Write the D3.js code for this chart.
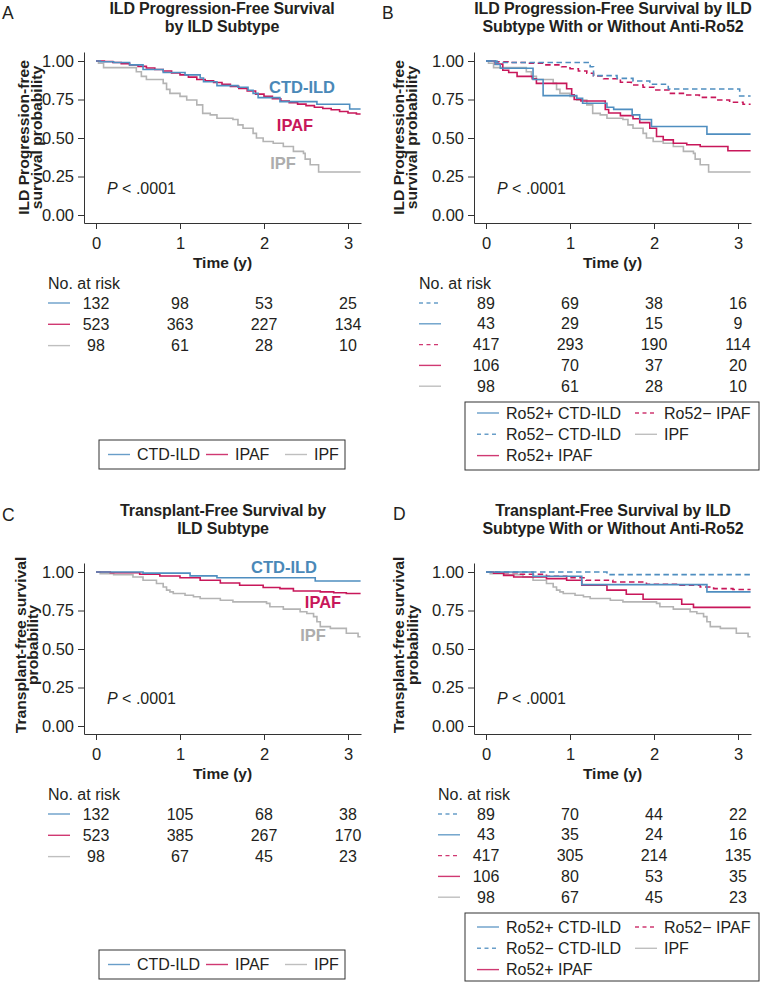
<!DOCTYPE html>
<html lang="en">
<head>
<meta charset="UTF-8">
<title>ILD survival by subtype</title>
<script src="https://d3js.org/d3.v7.min.js"></script>
<style>
    body { margin: 0; background: #fff; }
    svg { font-family: "Liberation Sans", Arial, Helvetica, sans-serif; }
    .tick text { font-size: 16.5px; fill: #231f20; }
    .tick line, .domain { stroke: #333; }
    .title { font-size: 16px; font-weight: bold; fill: #231f20; text-anchor: middle; letter-spacing: -0.15px; }
    .letter { font-size: 17.5px; fill: #231f20; }
    .ylab { font-size: 14.5px; font-weight: bold; fill: #231f20; text-anchor: middle; }
    .xlab { font-size: 15.5px; font-weight: bold; fill: #231f20; text-anchor: middle; }
    .txt { font-size: 16px; fill: #231f20; }
    .curve { fill: none; stroke-width: 1.6; }
    .clab { font-size: 16.5px; font-weight: bold; text-anchor: middle; }
</style>
</head>
<body>
<svg id="chart" width="760" height="982"></svg>
<script>
// time ticks (years) and survival ticks
const timeTicks = [0, 1, 2, 3];
const survTicks = [0, 0.25, 0.5, 0.75, 1];
const tEnd = 3.15;

// ---- ILD progression-free survival: [time, survival] steps ----
const pfsCtd = [[0,1],[0.05,0.995],[0.21,0.99],[0.40,0.975],[0.56,0.945],[0.80,0.925],[1.06,0.91],[1.24,0.89],[1.28,0.865],[1.44,0.84],[1.69,0.83],[1.81,0.81],[1.87,0.79],[1.93,0.762],[2.19,0.736],[2.63,0.719],[3.02,0.688],[tEnd,0.688]];
const pfsIpaf = [[0,1],[0.1,0.997],[0.2,0.99],[0.3,0.983],[0.4,0.975],[0.5,0.965],[0.6,0.955],[0.7,0.945],[0.8,0.935],[0.9,0.922],[1.0,0.91],[1.1,0.895],[1.2,0.88],[1.3,0.872],[1.4,0.86],[1.5,0.848],[1.6,0.835],[1.7,0.822],[1.8,0.805],[1.9,0.785],[2.0,0.77],[2.1,0.755],[2.2,0.74],[2.3,0.73],[2.4,0.72],[2.5,0.71],[2.6,0.70],[2.7,0.692],[2.8,0.683],[2.9,0.672],[3.0,0.662],[3.1,0.656],[tEnd,0.656]];
const pfsIpf = [[0,1],[0.03,0.985],[0.09,0.957],[0.48,0.93],[0.54,0.9],[0.6,0.88],[0.8,0.855],[0.84,0.816],[0.88,0.79],[1.0,0.77],[1.08,0.747],[1.2,0.715],[1.27,0.66],[1.36,0.65],[1.44,0.628],[1.63,0.62],[1.69,0.585],[1.75,0.563],[1.87,0.53],[1.91,0.5],[1.99,0.477],[2.11,0.466],[2.23,0.445],[2.35,0.413],[2.47,0.40],[2.49,0.363],[2.55,0.326],[2.65,0.279],[tEnd,0.279]];
const pfsNegCtd = [[0,1],[0.13,0.99],[1.24,0.963],[1.28,0.905],[1.56,0.887],[1.75,0.87],[1.95,0.849],[2.17,0.818],[3.02,0.773],[tEnd,0.773]];
const pfsPosCtd = [[0,1],[0.11,0.977],[0.17,0.953],[0.56,0.88],[0.68,0.775],[1.08,0.758],[1.15,0.726],[1.44,0.70],[1.52,0.686],[1.74,0.65],[1.83,0.62],[1.97,0.575],[2.63,0.525],[tEnd,0.525]];
const pfsNegIpaf = [[0,1],[0.1,0.995],[0.3,0.99],[0.5,0.985],[0.7,0.975],[0.9,0.963],[1.0,0.95],[1.1,0.935],[1.2,0.92],[1.28,0.903],[1.4,0.885],[1.6,0.862],[1.73,0.844],[1.87,0.83],[2.0,0.812],[2.18,0.79],[2.38,0.779],[2.54,0.764],[2.74,0.747],[2.9,0.732],[3.06,0.719],[tEnd,0.719]];
const pfsPosIpaf = [[0,1],[0.11,0.98],[0.2,0.94],[0.27,0.925],[0.37,0.9],[0.55,0.885],[0.6,0.855],[0.96,0.82],[1.02,0.78],[1.05,0.75],[1.13,0.74],[1.42,0.685],[1.46,0.662],[1.6,0.645],[1.75,0.625],[1.83,0.6],[1.95,0.563],[2.03,0.51],[2.11,0.488],[2.23,0.466],[2.39,0.456],[2.55,0.445],[2.88,0.417],[tEnd,0.417]];

// ---- transplant-free survival ----
const tfsCtd = [[0,1],[0.56,0.993],[1.12,0.975],[1.44,0.963],[2.61,0.942],[tEnd,0.942]];
const tfsIpaf = [[0,1],[0.17,0.995],[0.52,0.985],[0.76,0.974],[1.0,0.963],[1.24,0.946],[1.48,0.929],[1.71,0.914],[1.99,0.899],[2.19,0.892],[2.35,0.877],[2.67,0.871],[2.83,0.865],[2.98,0.86],[tEnd,0.86]];
const tfsIpf = [[0,1],[0.05,0.989],[0.21,0.983],[0.44,0.968],[0.56,0.946],[0.72,0.925],[0.80,0.903],[0.84,0.882],[0.88,0.871],[0.92,0.86],[1.06,0.849],[1.16,0.839],[1.24,0.828],[1.48,0.817],[1.63,0.806],[2.03,0.796],[2.07,0.774],[2.23,0.759],[2.43,0.742],[2.51,0.731],[2.59,0.71],[2.63,0.677],[2.67,0.645],[2.79,0.634],[2.98,0.602],[3.12,0.58],[tEnd,0.58]];
const tfsNegCtd = [[0,1],[1.44,0.983],[tEnd,0.983]];
const tfsPosCtd = [[0,1],[0.56,0.972],[1.14,0.918],[2.63,0.871],[tEnd,0.871]];
const tfsPosIpaf = [[0,1],[0.09,0.993],[0.21,0.978],[0.33,0.968],[0.72,0.957],[0.96,0.946],[1.14,0.914],[1.44,0.882],[1.67,0.856],[1.87,0.823],[2.33,0.791],[2.47,0.77],[tEnd,0.77]];
const tfsNegIpaf = [[0,1],[0.13,0.996],[0.4,0.985],[0.72,0.972],[0.96,0.963],[1.19,0.946],[1.51,0.935],[1.91,0.92],[2.31,0.914],[2.55,0.903],[2.71,0.892],[2.94,0.886],[tEnd,0.886]];

// ---- numbers at risk ----
const riskPfsA = [[132,98,53,25],[523,363,227,134],[98,61,28,10]];
const riskPfsB = [[89,69,38,16],[43,29,15,9],[417,293,190,114],[106,70,37,20],[98,61,28,10]];
const riskTfsC = [[132,105,68,38],[523,385,267,170],[98,67,45,23]];
const riskTfsD = [[89,70,44,22],[43,35,24,16],[417,305,214,135],[106,80,53,35],[98,67,45,23]];

const groupNames = ['CTD-ILD', 'IPAF', 'IPF'];
const ro52Names = ['Ro52+ CTD-ILD', 'Ro52\u2212 CTD-ILD', 'Ro52+ IPAF', 'Ro52\u2212 IPAF', 'IPF'];

const BLUE = '#4f8ec0', RED = '#c8175a', GRAY = '#b4b4b4';
const DASH = '5.5,3.5';

const svg = d3.select('#chart');

function drawPanel(p) {
    const g = svg.append('g').attr('transform', `translate(${p.dx},${p.dy})`);

    const x = d3.scaleLinear().domain([-12/84, 3 + 13/84]).range([84, 361]);
    const y = d3.scaleLinear().domain([-8/154, 1 + 9/154]).range([223, 52]);

    g.append('text').attr('class', 'letter').attr('x', p.letterX).attr('y', p.letterY).text(p.letter);
    p.title.forEach((t, i) => {
        g.append('text').attr('class', 'title').attr('x', p.titleX).attr('y', p.titleY + i * 18).text(t);
    });

    // y axis label (glyphs a bit wider than tall in the source figure)
    p.ylab.forEach((t, i) => {
        g.append('text').attr('class', 'ylab')
            .attr('transform', `translate(${p.ylabX[i]},${p.ylabY}) rotate(-90) scale(1.08,1)`)
            .text(t);
    });

    g.append('g').attr('transform', 'translate(84,0)')
        .call(d3.axisLeft(y).tickValues(survTicks).tickFormat(d3.format('.2f')).tickSize(6).tickSizeOuter(0).tickPadding(4));
    g.append('g').attr('transform', 'translate(0,223)')
        .call(d3.axisBottom(x).tickValues(timeTicks).tickFormat(d3.format('d')).tickSize(6).tickSizeOuter(0).tickPadding(8));

    const line = d3.line().x(d => x(d[0])).y(d => y(d[1])).curve(d3.curveStepAfter);
    p.series.forEach(s => {
        g.append('path').datum(s.data).attr('class', 'curve')
            .attr('stroke', s.color)
            .attr('stroke-dasharray', s.dash ? DASH : null)
            .attr('d', line);
    });

    (p.curveLabels || []).forEach(c => {
        g.append('text').attr('class', 'clab').attr('x', c.x).attr('y', c.y).attr('fill', c.color).text(c.text);
    });

    const pv = g.append('text').attr('class', 'txt').attr('x', 107).attr('y', p.pY);
    pv.append('tspan').attr('font-style', 'italic').text('P');
    pv.append('tspan').text(' < .0001');

    g.append('text').attr('class', 'xlab').attr('x', 222.5).attr('y', 267.5).text('Time (y)');

    // number at risk table
    g.append('text').attr('class', 'txt').attr('x', p.riskX).attr('y', 288.5).text('No. at risk');
    p.risk.forEach((row, i) => {
        const ry = 303 + i * p.riskStep;
        const st = p.riskStyle[i];
        g.append('line').attr('x1', p.riskX).attr('x2', p.riskX + 22)
            .attr('y1', ry).attr('y2', ry)
            .attr('stroke', st.color).attr('stroke-width', 1.4).attr('opacity', 0.85)
            .attr('stroke-dasharray', st.dash ? '4,3.5' : null);
        row.forEach((n, j) => {
            g.append('text').attr('class', 'txt').attr('text-anchor', 'middle')
                .attr('x', x(timeTicks[j])).attr('y', ry + 5.5).text(n);
        });
    });

    // legend
    const L = p.legend;
    g.append('rect').attr('x', L.x).attr('y', L.y).attr('width', L.w).attr('height', L.h)
        .attr('fill', 'none').attr('stroke', '#333').attr('stroke-width', 1);
    L.items.forEach(it => {
        g.append('line').attr('x1', it.x).attr('x2', it.x + 22).attr('y1', it.y).attr('y2', it.y)
            .attr('stroke', it.color).attr('stroke-width', 1.4).attr('opacity', 0.85)
            .attr('stroke-dasharray', it.dash ? '4,3.5' : null);
        g.append('text').attr('class', 'txt').attr('x', it.x + 29).attr('y', it.y + 5.5).text(it.text);
    });
}

const threeStyle = [{color: BLUE}, {color: RED}, {color: GRAY}];
const fiveStyle = [{color: BLUE, dash: true}, {color: BLUE}, {color: RED, dash: true}, {color: RED}, {color: GRAY}];

function threeLegend(y) {
    return {x: 99, y: y, w: 246, h: 29, items: [
        {x: 108, y: y + 14.5, color: BLUE, text: groupNames[0]},
        {x: 206, y: y + 14.5, color: RED, text: groupNames[1]},
        {x: 285, y: y + 14.5, color: GRAY, text: groupNames[2]}
    ]};
}
function fiveLegend(y0) {
    return {x: 75, y: 402, w: 294, h: 68, items: [
        {x: 87, y: y0, color: BLUE, text: ro52Names[0]},
        {x: 87, y: y0 + 21.3, color: BLUE, dash: true, text: ro52Names[1]},
        {x: 87, y: y0 + 42.6, color: RED, text: ro52Names[2]},
        {x: 245, y: y0, color: RED, dash: true, text: ro52Names[3]},
        {x: 245, y: y0 + 21.3, color: GRAY, text: ro52Names[4]}
    ]};
}

drawPanel({
    dx: 0, dy: 0, letter: 'A', letterX: 2, letterY: 19,
    title: ['ILD Progression-Free Survival', 'by ILD Subtype'], titleX: 222, titleY: 14,
    ylab: ['ILD Progression-free', 'survival probability'], ylabX: [29, 41.5], ylabY: 137.5,
    series: [{data: pfsIpf, color: GRAY}, {data: pfsIpaf, color: RED}, {data: pfsCtd, color: BLUE}],
    curveLabels: [{x: 302, y: 92.5, text: 'CTD-ILD', color: '#4a88b8'}, {x: 295, y: 130.5, text: 'IPAF', color: RED}, {x: 283, y: 168.5, text: 'IPF', color: '#adadad'}],
    pY: 193.5, riskX: 48, risk: riskPfsA, riskStep: 21.3, riskStyle: threeStyle,
    legend: threeLegend(440)
});

drawPanel({
    dx: 390, dy: 0, letter: 'B', letterX: -8, letterY: 18.5,
    title: ['ILD Progression-Free Survival by ILD', 'Subtype With or Without Anti-Ro52'], titleX: 223, titleY: 13.5,
    ylab: ['ILD Progression-free', 'survival probability'], ylabX: [13.5, 27], ylabY: 137.5,
    series: [{data: pfsIpf, color: GRAY}, {data: pfsPosIpaf, color: RED}, {data: pfsNegIpaf, color: RED, dash: true},
             {data: pfsPosCtd, color: BLUE}, {data: pfsNegCtd, color: BLUE, dash: true}],
    pY: 193.5, riskX: 29, risk: riskPfsB, riskStep: 20.8, riskStyle: fiveStyle,
    legend: fiveLegend(413)
});

drawPanel({
    dx: 0, dy: 511, letter: 'C', letterX: 2, letterY: 10,
    title: ['Transplant-Free Survival by', 'ILD Subtype'], titleX: 223, titleY: 5,
    ylab: ['Transplant-free survival', 'probability'], ylabX: [25.5, 38], ylabY: 134,
    series: [{data: tfsIpf, color: GRAY}, {data: tfsIpaf, color: RED}, {data: tfsCtd, color: BLUE}],
    curveLabels: [{x: 284, y: 61.5, text: 'CTD-ILD', color: '#4a88b8'}, {x: 323, y: 96.5, text: 'IPAF', color: RED}, {x: 313, y: 129.5, text: 'IPF', color: '#adadad'}],
    pY: 192.5, riskX: 48, risk: riskTfsC, riskStep: 21.3, riskStyle: threeStyle,
    legend: threeLegend(439)
});

drawPanel({
    dx: 390, dy: 511, letter: 'D', letterX: 3, letterY: 9,
    title: ['Transplant-Free Survival by ILD', 'Subtype With or Without Anti-Ro52'], titleX: 223, titleY: 5,
    ylab: ['Transplant-free survival', 'probability'], ylabX: [14, 27.5], ylabY: 134,
    series: [{data: tfsIpf, color: GRAY}, {data: tfsPosIpaf, color: RED}, {data: tfsNegIpaf, color: RED, dash: true},
             {data: tfsPosCtd, color: BLUE}, {data: tfsNegCtd, color: BLUE, dash: true}],
    pY: 192.5, riskX: 48, risk: riskTfsD, riskStep: 20.8, riskStyle: fiveStyle,
    legend: fiveLegend(416)
});
</script>
</body>
</html>
